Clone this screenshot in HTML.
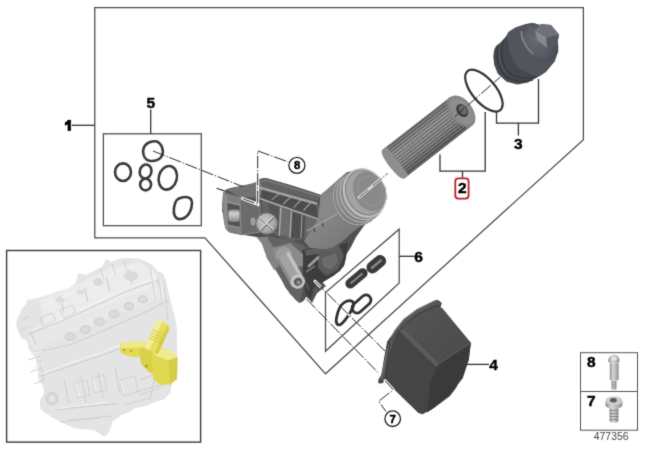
<!DOCTYPE html>
<html><head><meta charset="utf-8"><style>
html,body{margin:0;padding:0;background:#fff;width:647px;height:450px;overflow:hidden}
svg{display:block;position:absolute;left:0;top:0}
text{font-family:"Liberation Sans",sans-serif;font-weight:bold;font-size:15.5px;fill:#000;stroke:#000;stroke-width:0.45px}
</style></head><body>
<svg width="647" height="450" viewBox="0 0 647 450">
<defs>
<filter id="soft" x="0" y="0" width="647" height="450" filterUnits="userSpaceOnUse" color-interpolation-filters="sRGB"><feConvolveMatrix order="3" kernelMatrix="1 6 1 6 36 6 1 6 1" divisor="64" edgeMode="duplicate"/></filter>
<linearGradient id="gFil" x1="0" y1="0" x2="0" y2="1">
<stop offset="0" stop-color="#707070"/><stop offset="0.3" stop-color="#9c9c9c"/><stop offset="0.65" stop-color="#8c8c8c"/><stop offset="1" stop-color="#5a5a5a"/>
</linearGradient>
<pattern id="pleat" width="40" height="2.9" patternUnits="userSpaceOnUse">
<rect width="40" height="1.3" fill="#000" fill-opacity="0.38"/>
<rect y="1.7" width="40" height="0.8" fill="#fff" fill-opacity="0.18"/>
</pattern>
<radialGradient id="gCap" cx="0.4" cy="0.35" r="0.75">
<stop offset="0" stop-color="#686b72"/><stop offset="0.6" stop-color="#565960"/><stop offset="1" stop-color="#44474d"/>
</radialGradient>
<linearGradient id="gNeck" x1="0" y1="0" x2="0.7" y2="1">
<stop offset="0" stop-color="#7a7a7a"/><stop offset="0.45" stop-color="#8a8a8a"/><stop offset="0.85" stop-color="#7a7a7a"/><stop offset="1" stop-color="#666"/>
</linearGradient>
<radialGradient id="gXcap" cx="0.4" cy="0.4" r="0.7">
<stop offset="0" stop-color="#d0d0d0"/><stop offset="0.7" stop-color="#a5a5a5"/><stop offset="1" stop-color="#7a7a7a"/>
</radialGradient>
<linearGradient id="gTop4" x1="0" y1="0" x2="1" y2="1">
<stop offset="0" stop-color="#555"/><stop offset="1" stop-color="#4a4a4a"/>
</linearGradient>
<linearGradient id="gYel" x1="0" y1="0" x2="1" y2="1">
<stop offset="0" stop-color="#efe77a"/><stop offset="0.5" stop-color="#e4da3e"/><stop offset="1" stop-color="#d4c930"/>
</linearGradient>
<linearGradient id="gScr" x1="0" y1="0" x2="1" y2="0">
<stop offset="0" stop-color="#8c8c8c"/><stop offset="0.35" stop-color="#d6d6d6"/><stop offset="0.7" stop-color="#b4b4b4"/><stop offset="1" stop-color="#8e8e8e"/>
</linearGradient>
<linearGradient id="gCapL" x1="0" y1="1" x2="1" y2="0">
<stop offset="0" stop-color="#3f4147"/><stop offset="0.5" stop-color="#4d5057"/><stop offset="1" stop-color="#5a5d64"/>
</linearGradient>
<linearGradient id="gRoll" x1="0" y1="0" x2="0" y2="1">
<stop offset="0" stop-color="#8a8a8a"/><stop offset="0.3" stop-color="#cfcfcf"/><stop offset="0.65" stop-color="#b0b0b0"/><stop offset="1" stop-color="#808080"/>
</linearGradient>
</defs>
<g filter="url(#soft)">
<rect width="647" height="450" fill="#fff"/>

<!-- ===== frames ===== -->
<g fill="none" stroke="#4a4a4a" stroke-width="1.25">
<path d="M94.8,7.6 H583.4 V139.6 L325.5,373.8 L205,237.9 H94.8 Z"/>
<rect x="103.4" y="133.8" width="97.9" height="91.9"/>
<path d="M399.2,229.2 V283 L325.5,351.2 V292.5 Z"/>
</g>
<rect x="6.6" y="250.5" width="194" height="191.6" fill="none" stroke="#3a3a3a" stroke-width="1.4"/>
<g fill="none" stroke="#555" stroke-width="1">
<rect x="580.5" y="352.7" width="57" height="77.5"/>
<path d="M580.5,391.5 H637.5"/>
</g>

<!-- leaders -->
<g fill="none" stroke="#333" stroke-width="1.3">
<path d="M72,125.3 H94.8"/>
<path d="M150.7,109.6 V133.8"/>
<path d="M440,154.6 V171.2 H485.2 V112 M462.5,171.2 V177.8"/>
<path d="M496.5,111.8 V123.2 H538.5 V79 M518.4,123.2 V135.6"/>
<path d="M399.2,256.3 H414.5"/>
<path d="M465.5,364.4 H489"/>
</g>
<rect x="455.3" y="178.3" width="13.3" height="20.3" rx="3" fill="#fff" stroke="#c01f26" stroke-width="1.8"/>

<!-- ===== gaskets box 5 ===== -->
<g fill="none" stroke="#3a3a3a" stroke-width="2.6" stroke-linejoin="round">
<path d="M155,141.2 C158,141.2 160,143.5 161.5,146 C163.3,150 163.6,154 161,157.3 C158,160.3 153,161.3 149.5,160.8 C145.5,160 143.2,156 143.1,151.5 C143.1,147 146,143.8 149.5,142.3 C151.5,141.4 153.5,141.2 155,141.2 Z"/>
<ellipse cx="123" cy="172.2" rx="8" ry="8.8"/>
<ellipse cx="145.6" cy="171.5" rx="5.8" ry="7" transform="rotate(15 145.6 171.5)"/>
<ellipse cx="145.6" cy="184.6" rx="5.5" ry="5.8"/>
<ellipse cx="167.8" cy="177.8" rx="9" ry="12" transform="rotate(15 167.8 177.8)"/>
<path d="M178,199 C184,196 192,196 192,203 C192,210 188,218 181,219 C175,220 173,214 174,208 C175,203 175,201 178,199 Z"/>
</g>

<!-- ===== gaskets box 6 ===== -->
<g fill="#3a3a3a">
<rect x="-13" y="-5" width="26" height="10" rx="5" transform="translate(356.5,278.4) rotate(-40)"/>
<rect x="-11" y="-6" width="22" height="12" rx="6" transform="translate(376.3,264.2) rotate(-40)"/>
</g>
<g fill="#8a8a8a">
<rect x="-8" y="-1" width="16" height="2" rx="1" transform="translate(356.5,278.4) rotate(-40)"/>
<rect x="-7" y="-1.2" width="14" height="2.4" rx="1" transform="translate(376.3,264.2) rotate(-40)"/>
</g>
<g fill="none" stroke="#303030" stroke-width="2.8" stroke-linejoin="round">
<rect x="-11" y="-5" width="22" height="10" rx="5" transform="translate(361.5,304) rotate(-42)"/>
<path d="M341,305.5 C344,301.5 349,299.5 352,301.2 C355,303 353.5,307 350.5,312 C347.5,317 344.5,322 340.5,324.5 C337.5,326 335.5,323 336.3,319 C337.2,314 338.2,309.5 341,305.5 Z"/>
</g>

<!-- ===== O-ring ===== -->
<ellipse cx="483.9" cy="90.6" rx="11.8" ry="25.5" transform="rotate(-40 483.9 90.6)" fill="none" stroke="#333" stroke-width="2.2"/>

<!-- ===== filter element ===== -->
<g transform="translate(393.5,164) rotate(-37.9)">
<path d="M0,-18 H86 V18 H0 C-6,18 -6,-18 0,-18 Z" fill="url(#gFil)"/>
<rect x="5" y="-17" width="77" height="34" fill="url(#pleat)"/>
<path d="M0,-18 H5 V18 H0 C-6,18 -6,-18 0,-18 Z" fill="#8e8e8e"/>
<rect x="80" y="-18" width="6" height="36" fill="#7e7e7e"/>
<ellipse cx="86" cy="0" rx="11" ry="18" fill="#858585"/>
<ellipse cx="86.5" cy="0" rx="9" ry="15.5" fill="#8e8e8e"/>
<ellipse cx="87" cy="0" rx="5.2" ry="7.2" fill="#3e3e3e"/>
<ellipse cx="88" cy="0" rx="3.6" ry="5.2" fill="#6a6a6a"/>
</g>

<!-- ===== cap ===== -->
<path d="M494.2,49.7 L496,46.1 L501.4,41.7 L506.7,35.5 L508.5,31.9 L515.6,27.5 L526.3,23.9 L533.4,23 L541.4,25.7 L551.2,27.8 L558.3,38.1 L556.5,46.1 L558.3,50.6 L554.7,61.3 L545.8,72 L538.7,76.4 L528,82.6 L517.4,84.4 L506.7,81.7 L497.8,73.7 L494.2,64.8 L493.3,55.9 Z" fill="#45484e"/>
<path d="M506.7,35.5 L508.5,31.9 L515.6,27.5 L526.3,23.9 L533.4,23 L541.4,25.7 L551.2,27.8 L558.3,38.1 L556.5,46.1 L558.3,50.6 L554.7,61.3 L545.8,72 L538.7,76.4 C532,75 524,72 519,68 C513,62 510,55 509,48 C508.5,43 507.5,39 506.7,35.5 Z" fill="#52555c"/>
<ellipse cx="541" cy="43" rx="15.5" ry="20" transform="rotate(-38 541 43)" fill="url(#gCap)"/>
<path d="M521.5,31 C521,38 525,47 533,54" fill="none" stroke="#868990" stroke-width="1.6"/>
<g fill="none" stroke="#34363b" stroke-width="1.2">
<path d="M499,45 C495.5,54 497,66 504,74.5 C511,81 522,83 533,80"/>
<path d="M503.5,40 C499.5,50 501,63 508,71.5 C515,78 527,80 537,76.5"/>
</g>
<g fill="none" stroke="#5a5d64" stroke-width="0.9">
<path d="M501,42.5 C497.5,52 499,64.5 506,73"/>
</g>
<path d="M535,30.5 L541,24 L551,25 L559,34.5 L557,44 L547,48 L537,40 Z" fill="#63666d"/>
<path d="M535,30.5 L546.5,37.5 L547,48 L537,40 Z" fill="#868990"/>
<path d="M546.5,37.5 L559,34.5 L557,44 L547,48 Z" fill="#55585f"/>
<path d="M535,30.5 L541,24 L551,25 L559,34.5 L546.5,37.5 Z" fill="#6e7178"/>

<!-- ===== housing ===== -->
<path d="M225.9,189.4 L230.6,187.9 L243,185.6 L250.8,184.8 L255.4,182.4 L258.5,179.3 L261.7,178.6 L265.7,178 L278.1,181.6 L290.6,185.1 L304.8,189.6 L315.4,193.1 L320.8,194.9 L327.9,189.6 L346.7,172.5 L358.3,169.2 L370,170.8 L380,177.5 L385.8,188.3 L386.7,198.3 L383.3,208.3 L376.7,215 L366,223 L356,237 L351,247 L346,255 L344,265 L340,271 L334,275 L324,281 L320,287 L316,295 L312,303 L306.6,297.6 L303,301.2 L299.5,303 L295.9,300.3 L290.6,294.1 L285.2,286.9 L281.7,279.8 L278.1,270.9 L272.8,265.6 L267.5,258.5 L265.7,249.6 L262.1,242.5 L256.8,237.1 L240.7,234.5 L235.2,233.8 L229,232.2 L225.9,229.1 L224.3,222.9 L223.6,216.7 L222,210.4 L222.8,205.8 L223.6,197.2 Z" fill="#505050"/>
<!-- lower body -->
<path d="M257,237 L268,236 L290,240 L305,246 L308,262 L304,285 L300,303 L290,294 L281,279 L273,266 L267,258 L262,242 Z" fill="#636363"/>
<path d="M256.5,237 L267,237 L275,250 L279,266 L274,270 L267,258 L262,244 Z" fill="#838383"/>
<path d="M302,250 L348,243 L346,258 L344,266 L334,275.6 L324,281.4 L315.3,285.7 L312.5,293 L310,300 L305,292 L303,275 Z" fill="#3d3d3d"/>
<path d="M318,254 L340,247 L344,256 L338,270 L326,276 L318,268 Z" fill="#5a5a5a"/>
<path d="M322,258 L336,253 L338,262 L330,270 L323,266 Z" fill="#6c6c6c"/>
<path d="M305,250 L340,245 L338,250 L306,256 Z" fill="#5e5e5e"/>
<path d="M309,266 L318,257.5" stroke="#a0a0a0" stroke-width="2.6" stroke-linecap="round"/>
<path d="M306,272 L315,266" stroke="#777" stroke-width="1.6"/>
<path d="M303,276 L309,290" stroke="#555" stroke-width="2"/>
<path d="M312,290 L322,282 L326,286 L316,294 Z" fill="#555"/>
<!-- pipe boss + pipe -->
<path d="M272,248 L290,243 L303,254 L303,266 L290,268 L278,262 Z" fill="#8a8a8a"/>
<ellipse cx="283.5" cy="254.5" rx="8.5" ry="7.5" transform="rotate(-30 283.5 254.5)" fill="#9c9c9c"/>
<path d="M283,255 L297.5,280.5" stroke="#a3a3a3" stroke-width="13.5" stroke-linecap="butt"/>
<path d="M277.5,258.5 L292,284" stroke="#8c8c8c" stroke-width="3"/>
<path d="M287.5,252.5 L301.5,277.5" stroke="#c2c2c2" stroke-width="3.5"/>
<ellipse cx="297.7" cy="281.6" rx="7.4" ry="7" transform="rotate(-30 297.7 281.6)" fill="#c4c4c4"/>
<ellipse cx="298" cy="281.8" rx="4.2" ry="3.9" transform="rotate(-30 298 281.8)" fill="#5c5c5c"/>
<ellipse cx="298.6" cy="282.4" rx="2.2" ry="2" fill="#8e8e8e"/>
<!-- left block -->
<path d="M225.9,189.4 L243,185.6 L255.4,182.4 L261.7,178.6 L264,186 L260,198 L240,197 Z" fill="#727272"/>
<path d="M223,192 L240,197 L241,235 L229,232 L224,222 L222,205 Z" fill="#7e7e7e"/>
<path d="M240,197 L260,203 L260,232 L241,235 Z" fill="#6b6b6b"/>
<path d="M240,197 L260,203 L260,232 L241,235 Z" fill="none" stroke="#8c8c8c" stroke-width="1"/>
<path d="M227,202.5 L239.5,205.5 L239.8,227 L228,224.5 Z" fill="#545454"/>
<rect x="228.5" y="209.5" width="11" height="12.5" rx="3" fill="url(#gRoll)"/>
<path d="M223.5,194 L227,195.5 L228,230 L225,228 L224,221 Z" fill="#8c8c8c"/>
<path d="M226,201.5 L240,205" stroke="#959595" stroke-width="1.4"/>
<path d="M227,225 L240,228" stroke="#8a8a8a" stroke-width="1.4"/>
<path d="M242,197.3 L258.5,203.5" stroke="#9c9c9c" stroke-width="1.3"/>
<ellipse cx="253" cy="221.5" rx="2.5" ry="4" fill="#a0a0a0"/>
<!-- ribs -->
<path d="M261,179 L266,178 L321,195 L318,201 L262,187 Z" fill="#626262"/>
<path d="M262,187 L318,202 L320,219 L316,236 L292,241 L268,232 L262,222 Z" fill="#626262"/>
<path d="M262,189 L316,204 L318,218.5 L262,198 Z" fill="#4c4c4c"/>
<path d="M281,207 L290,211 L289,236 L280,234 Z" fill="#6e6e6e"/>
<path d="M268,203 L279,207 L278,232 L272,228 Z" fill="#555"/>
<path d="M292,212 L305,216 L304,238 L291,238 Z" fill="#505050"/>
<path d="M306,216 L317,220 L316,236 L305,238 Z" fill="#6a6a6a"/>
<g stroke="#a8a8a8" stroke-width="1.5" fill="none" stroke-linecap="round">
<path d="M260,187.8 L316,203.6" stroke-width="2.6" stroke="#a2a2a2"/>
<path d="M260,198.5 L320,219.8"/>
<path d="M280.8,207.7 L279.3,235.5 M291.4,211.5 L290,237"/>
</g>
<g stroke="#9a9a9a" stroke-width="1.2" fill="none">
<path d="M279.3,193.8 L271.5,199.9 M290.7,197 L282.9,204.2 M300.7,200 L293.6,207.7 M310.5,203 L303.5,210.5"/>
<path d="M302,215 L301,238"/>
</g>
<path d="M262,182 L266,180.5 L320,196.5" stroke="#7e7e7e" stroke-width="1.2" fill="none"/>
<!-- neck -->
<path d="M320.5,195 L346.8,172 L372,221 L364.9,223.2 L357.7,228.2 L350.4,234 L346.1,238.3 L338.9,244.1 L331.7,247.7 L324.4,249.2 L310,248 L304,241 L312,229 L318,219 Z" fill="url(#gNeck)"/>
<path d="M307,231 L337,214" stroke="#a8a8a8" stroke-width="1.4"/>
<path d="M313.5,228 L315,232 M322,223 L323.5,227" stroke="#555" stroke-width="1.6"/>
<path d="M381.3,209.7 L379.9,212.1 L378.2,214.4 L376.3,216.3 L374.1,217.8 L371.7,219.1 L369.1,219.9 L366.4,220.3 L363.7,220.4 L360.9,220.0 L358.1,219.3 L355.4,218.2 L352.8,216.7 L350.3,214.9 L348.0,212.7 L345.9,210.3 L344.1,207.7 L342.5,204.8 L341.3,201.8 L340.4,198.7 L339.8,195.6 L339.5,192.4 L339.6,189.3 L340.1,186.3 L340.8,183.4 L342.0,180.7 L343.4,178.3 L345.1,176.1 Z" fill="#8c8c8c"/>
<path d="M381.2,211.2 L379.7,213.4 L377.9,215.3 L375.9,216.9 L373.8,218.2 L371.5,219.2 L369.0,219.8 L366.5,220.1 L363.9,220.1 L361.2,219.6 L358.6,218.9 L356.1,217.7 L353.6,216.3 L351.3,214.6 L349.2,212.6 L347.2,210.3 L345.4,207.8 L343.9,205.2 L342.7,202.4 L341.7,199.5 L341.1,196.5 L340.7,193.6 L340.7,190.6 L340.9,187.7 L341.5,184.9 L342.4,182.3 L343.5,179.9 L345.0,177.6" fill="none" stroke="#6c6c6c" stroke-width="0.9"/>
<path d="M380.7,210.8 L379.2,213.0 L377.4,214.9 L375.4,216.5 L373.3,217.8 L371.0,218.8 L368.5,219.4 L366.0,219.7 L363.4,219.7 L360.7,219.2 L358.1,218.5 L355.6,217.3 L353.1,215.9 L350.8,214.2 L348.7,212.2 L346.7,209.9 L344.9,207.4 L343.4,204.8 L342.2,202.0 L341.2,199.1 L340.6,196.1 L340.2,193.2 L340.2,190.2 L340.4,187.3 L341.0,184.5 L341.9,181.9 L343.0,179.5 L344.5,177.2" fill="none" stroke="#b8b8b8" stroke-width="1.3"/>
<path d="M378.0,213.6 L376.5,215.8 L374.7,217.7 L372.7,219.3 L370.6,220.6 L368.3,221.6 L365.8,222.2 L363.3,222.5 L360.7,222.5 L358.0,222.0 L355.4,221.3 L352.9,220.1 L350.4,218.7 L348.1,217.0 L346.0,215.0 L344.0,212.7 L342.2,210.2 L340.7,207.6 L339.5,204.8 L338.5,201.9 L337.9,198.9 L337.5,196.0 L337.5,193.0 L337.7,190.1 L338.3,187.3 L339.2,184.7 L340.3,182.3 L341.8,180.0" fill="none" stroke="#6c6c6c" stroke-width="0.9"/>
<path d="M377.5,213.2 L376.0,215.4 L374.2,217.3 L372.2,218.9 L370.1,220.2 L367.8,221.2 L365.3,221.8 L362.8,222.1 L360.2,222.1 L357.5,221.6 L354.9,220.9 L352.4,219.7 L349.9,218.3 L347.6,216.6 L345.5,214.6 L343.5,212.3 L341.7,209.8 L340.2,207.2 L339.0,204.4 L338.0,201.5 L337.4,198.5 L337.0,195.6 L337.0,192.6 L337.2,189.7 L337.8,186.9 L338.7,184.3 L339.8,181.9 L341.3,179.6" fill="none" stroke="#b0b0b0" stroke-width="1.2"/>
<path d="M374.5,216.2 L373.0,218.4 L371.3,220.3 L369.3,221.9 L367.1,223.2 L364.8,224.2 L362.4,224.8 L359.8,225.1 L357.2,225.0 L354.6,224.6 L352.0,223.8 L349.5,222.7 L347.0,221.3 L344.7,219.6 L342.5,217.6 L340.5,215.3 L338.8,212.8 L337.3,210.2 L336.0,207.4 L335.1,204.5 L334.4,201.5 L334.1,198.5 L334.0,195.6 L334.3,192.7 L334.9,189.9 L335.7,187.3 L336.9,184.8 L338.3,182.6" fill="none" stroke="#6c6c6c" stroke-width="0.9"/>
<path d="M374.0,215.8 L372.5,218.0 L370.8,219.9 L368.8,221.5 L366.6,222.8 L364.3,223.8 L361.9,224.4 L359.3,224.7 L356.7,224.6 L354.1,224.2 L351.5,223.4 L349.0,222.3 L346.5,220.9 L344.2,219.2 L342.0,217.2 L340.0,214.9 L338.3,212.4 L336.8,209.8 L335.5,207.0 L334.6,204.1 L333.9,201.1 L333.6,198.1 L333.5,195.2 L333.8,192.3 L334.4,189.5 L335.2,186.9 L336.4,184.4 L337.8,182.2" fill="none" stroke="#a8a8a8" stroke-width="1.1"/>
<ellipse cx="364.6" cy="192.9" rx="21.1" ry="25.6" transform="rotate(-23.9 364.6 192.9)" fill="#c0c0c0"/>
<ellipse cx="365" cy="192.6" rx="18.6" ry="23.2" transform="rotate(-25 365 192.6)" fill="#a2a2a2" stroke="#777" stroke-width="0.9"/>
<ellipse cx="369.3" cy="191.4" rx="15.4" ry="20.4" transform="rotate(-25 369.3 191.4)" fill="#8a8a8a"/>
<ellipse cx="370.5" cy="191" rx="11.5" ry="15.5" transform="rotate(-25 370.5 191)" fill="none" stroke="#959595" stroke-width="1"/>
<!-- X cap -->
<circle cx="266.8" cy="223.6" r="10.5" fill="url(#gXcap)"/>
<path d="M260.3,217.8 L273.8,230 M273.5,217.3 L260.5,230.3" stroke="#7c7c7c" stroke-width="2.6"/>
<path d="M260,217 L273.5,229.3 M273,216.6 L260,229.6" stroke="#dcdcdc" stroke-width="1.3"/>
<circle cx="266.8" cy="223.6" r="10.5" fill="none" stroke="#858585" stroke-width="0.9"/>

<!-- ===== cover 4 ===== -->
<path d="M417.2,309.4 L435.4,300.5 L438.3,300.3 L441.7,302.8 L440.6,307.2 L471,343.2 L468,360 L462,376 L456,388 L450,396 L442,402 L434,408 L422.6,414.3 L418.4,412.9 L385,380.5 L382.5,383.3 L378.5,383.6 L378.2,380 L381.4,374.5 L384.2,357.4 L387.1,341.8 L395,330.6 L403.9,319.4 Z" fill="#454545"/>
<path d="M403.6,325.4 L422.2,313 L437.8,306.8 L442.4,308.3 L470.8,342.8 L437.8,364.3 L403.6,331.7 Z" fill="url(#gTop4)"/>
<path d="M437.8,364.3 L470.8,342.8 L468.9,359.7 L462.7,378.3 L450.2,393.9 L431.6,409.5 L426.9,412.6 L430,384.6 Z" fill="#3a3a3a"/>
<path d="M401,329.5 L437.8,365.5" stroke="#5d5d5d" stroke-width="4"/>
<path d="M437.8,364.3 L470.8,342.8" stroke="#5a5a5a" stroke-width="1.2"/>
<path d="M382.5,380 L385.5,366.5 L388.8,351 L392.2,340 L396.8,331.5 L405.5,320.8 L418.3,311.3 L436,302.8 L440,303.5" fill="none" stroke="#585858" stroke-width="3"/>
<path d="M380.6,379.4 L383.9,366.1 L387.2,350.6 L390.6,339.4 L395,330.6 L403.9,319.4 L417.2,309.4 L435.4,300.5 L438.3,300.3" fill="none" stroke="#727272" stroke-width="1.2"/>
<path d="M385,380.5 L390,340 L404,326" fill="none" stroke="#3a3a3a" stroke-width="1"/>

<!-- ===== screws ===== -->
<g>
<path d="M608.2,361.5 C608,357.5 610.5,354.7 613.9,354.7 C617.3,354.7 619.8,357.5 619.6,361.5 L617.8,363.6 L610.2,363.6 Z" fill="url(#gScr)"/>
<path d="M610.5,358 C611.5,356 616,356 617.5,358 L616,360.5 L612,360.5 Z" fill="#e2e2e2"/>
<path d="M609.8,363.6 H618.7 V379.5 C618.7,380.4 617,380.6 614.2,380.6 C611.4,380.6 609.8,380.4 609.8,379.5 Z" fill="url(#gScr)"/>
<rect x="611.6" y="380.4" width="4.8" height="9.6" rx="1" fill="url(#gScr)"/>
<g stroke="#7a7a7a" stroke-width="0.7"><path d="M611.6,382.5 H616.4 M611.6,384.8 H616.4 M611.6,387.1 H616.4"/></g>
<rect x="609.6" y="406" width="8.8" height="16.6" rx="2" fill="url(#gScr)"/>
<g stroke="#7c7c7c" stroke-width="0.8"><path d="M609.6,410.5 H618.4 M609.6,413.5 H618.4 M609.6,416.5 H618.4 M609.6,419.5 H618.4"/></g>
<path d="M605.6,401 V405.5 C605.6,407.5 609,408.6 614,408.6 C619,408.6 622.4,407.5 622.4,405.5 V401 Z" fill="url(#gScr)"/>
<ellipse cx="614" cy="400.6" rx="8.4" ry="4.4" fill="#cdcdcd"/>
<ellipse cx="613.4" cy="400.2" rx="3.4" ry="2.2" fill="#5a5a5a"/>
</g>

<!-- ===== engine inset ===== -->
<path d="M106,259 L111.7,261.8 L119.6,258.8 L129.4,257.9 L139.1,258.8 L147,261.8 L152.8,265.7 L156.8,270.6 L162.6,273.5 L166,280 L167.5,288 L169.5,296 L171,303 L173,310 L175,318 L176.5,326 L177,334 L177,342 L177.3,358.1 L176.2,371.7 L171.6,385.4 L170.5,392.2 L164.8,399 L153.5,402.4 L146.7,405.8 L135.4,408 L128.5,412.6 L121.7,414.8 L112.7,421.6 L110.4,428.4 L107,435.2 L103.6,436.4 L99,433 L94.5,430.7 L90,429.6 L80.8,429.6 L71.8,427.3 L65,424 L55.9,419.4 L44.5,412.6 L40,408 L40,400 L44.5,392.2 L42.3,384.2 L38.9,382 L37.7,369.5 L35.5,358 L28.7,349 L26.4,340 L22,339 L18,331 L16,323 L18,317 L22,309 L26,304 L27,300 L38,298 L48,295 L58,291 L68,289 L76,283 L78,273 L86,275 L94,271 L102,267 Z" fill="#e4e4e4"/>
<path d="M40,300 L78,284 L110,268 L140,262 L160,276 L150,290 L120,300 L80,318 L45,330 Z" fill="#ececec"/>
<path d="M28,336 L60,324 L100,308 L140,292 L165,283 L168,296 L140,306 L100,322 L60,338 L34,350 Z" fill="#e8e8e8"/>
<g fill="none" stroke="#cfcfcf" stroke-width="1.1">
<path d="M28,334 L60,322 L95,306 L125,292 L158,280"/>
<path d="M36,352 L70,345 L110,328 L150,310 L168,300"/>
<path d="M39.6,376.5 L70,366 L100,356 L130,344.7"/>
<path d="M64,379 L69,403 M81,376.5 L86,403 M98,371.6 L103,398.5 M115,366.7 L120,393.6"/>
<path d="M69,408 L118,404 M70,420 L112,416"/>
<path d="M40,360 L44,380 M30,330 L36,345"/>
<path d="M60,296 L64,312 M84,286 L88,302 M106,276 L110,292 M128,268 L132,284"/>
<path d="M140,380 L160,372 M135,392 L165,384 M150,400 L158,360"/>
</g>
<g fill="none" stroke="#f4f4f4" stroke-width="1.2">
<path d="M30,331 L60,319 L95,303 L125,289 L158,277"/>
<path d="M42,374 L70,363 L100,353 L128,342"/>
<path d="M45,305 L75,292 L105,277 L135,266"/>
</g>
<g fill="none" stroke="#d2d2d2" stroke-width="1">
<path d="M150,268 L156,300 M158,275 L163,305 M164,285 L168,320"/>
<path d="M40,318 L52,313 L56,320 L44,326 Z M60,310 L72,305 L76,312 L64,318 Z"/>
<path d="M28,360 L40,356 M30,372 L42,368 M34,384 L44,380"/>
<path d="M75,383 L78,398 L90,395 L87,380 Z M92,378 L95,393 L107,390 L104,375 Z"/>
<path d="M60,422 L100,418 M56,410 L110,404"/>
<path d="M120,380 L135,376 L138,392 L123,396 Z"/>
<path d="M140,395 L160,388 M125,405 L150,398"/>
<path d="M100,268 L104,280 M112,264 L116,276 M124,262 L128,274"/>
<path d="M22,320 L30,316 M20,330 L28,327"/>
</g>
<g fill="none" stroke="#f3f3f3" stroke-width="1.1">
<path d="M76,384 L79,396 M93,379 L96,391 M121,381 L124,393"/>
<path d="M30,355 L42,351 M33,367 L44,363"/>
<path d="M152,270 L157,298 M160,278 L164,303"/>
<path d="M60,408 L108,402"/>
</g>
<ellipse cx="60" cy="300" rx="5" ry="3" fill="#dcdcdc"/>
<ellipse cx="80" cy="292" rx="4" ry="2.5" fill="#dcdcdc"/>
<circle cx="51.8" cy="398.5" r="6" fill="#d9d9d9" stroke="#cbcbcb" stroke-width="1"/>
<circle cx="51.8" cy="398.5" r="3" fill="#e6e6e6"/>
<g fill="#dbdbdb" stroke="#cbcbcb" stroke-width="1.1">
<ellipse cx="70.1" cy="336.4" rx="4.8" ry="3.7"/>
<ellipse cx="85.5" cy="329.4" rx="4.8" ry="3.7"/>
<ellipse cx="99.5" cy="321.7" rx="4.8" ry="3.7"/>
<ellipse cx="114.1" cy="314" rx="4.8" ry="3.7"/>
<ellipse cx="128.8" cy="306.2" rx="4.6" ry="3.6"/>
<ellipse cx="142.7" cy="299.3" rx="4.4" ry="3.5"/>
</g>
<ellipse cx="131" cy="276" rx="7" ry="5" fill="#dadada"/>
<ellipse cx="98" cy="282" rx="5" ry="4" fill="#dadada"/>
<!-- yellow part -->
<path d="M120,343.5 L128,341.5 L140,341.5 L147,343 L146,355 L136,357.5 L125,355 L120.5,352.5 Z" fill="#e2db55"/>
<path d="M120,343.5 L128,341.5 L140,341.5 L147,343 L146,347 L121,348 Z" fill="#eeea8c"/>
<circle cx="124" cy="350" r="1.3" fill="#b8b030"/><circle cx="131" cy="351" r="1.3" fill="#b8b030"/>
<path d="M139,349 L156,346 L158,373 L150,373 L141,364 Z" fill="#d9d14a"/>
<circle cx="146.5" cy="366" r="1.6" fill="#aea630"/>

<path d="M152,350 L162,348 L170,350 L177.5,357 L177,379 L170,384.5 L160,384.5 L153,379 Z" fill="#e0d850"/>
<path d="M152,350 L162,348 L170,350 L177.5,357 L168.5,360.5 L156,356 Z" fill="#efeb92"/>
<path d="M168.5,360.5 L177.5,357 L177,379 L170,384.5 Z" fill="#d5cd48"/>
<g transform="translate(157.8,336.5) rotate(-65.5)">
<path d="M-16,-7.4 H10 C17,-7.4 17.5,7.4 10,7.4 H-16 Z" fill="#e6df5e"/>
<path d="M-16,-7.4 H10 C15,-7.4 16.5,-3 16.7,-2 H-16 Z" fill="#f2ee9c"/>
<path d="M-16,4 H14.5 C14,6 12.5,7.4 10,7.4 H-16 Z" fill="#d6ce44"/>
<path d="M1,-7.4 V7.4 M4,-7.4 V7.4 M-2,-7.4 V7.4 M-5,-7.4 V7.4" stroke="#cfc742" stroke-width="0.8"/>
</g>

<!-- dash-dot axes -->
<g fill="none" stroke="#fff" stroke-width="3" stroke-linecap="round">
<path d="M242.6,198.6 L257.7,204.3 V178"/>
<path d="M359,197.5 L386,174.5" stroke-width="2.4"/>
<path d="M315,281.2 L320,286.2 M306.4,298.9 L309,301.6"/>
<path d="M344.5,310.5 L349,315" stroke-width="2.2"/>
<path d="M385,380.7 L393.3,389.7"/>
</g>
<g fill="none" stroke="#2a2a2a" stroke-width="1" stroke-dasharray="12.5 1.8 1.3 1.8">
<path d="M153,151 L243,186.7"/>
<path d="M359,197.5 L387.5,173.5"/>
<path d="M455,116.5 L500.4,76.9"/>
<path d="M242.6,198.6 L257.7,204.3 V150.9 L288,161.8"/>
<path d="M306.4,298.9 L378.8,373.4"/>
<path d="M315,281.2 L385,351"/>
<path d="M385,380.7 L393.3,389.7 L378.7,401.3 L386,411.5"/>
</g>
<path d="M216.5,188.3 L225.7,191.4" stroke="#333" stroke-width="1.2"/>

<!-- circles labels -->
<g fill="#fff" stroke="#222" stroke-width="1.3">
<circle cx="296.9" cy="165.4" r="8"/>
<circle cx="392.7" cy="418.7" r="7.8"/>
</g>

<!-- ===== texts ===== -->
<path d="M67.8,120.1 L70.8,120.1 L70.8,130.7 L67.8,130.7 L67.8,124.2 C67,124.8 66,125.2 65,125.3 L65,122.6 C66.4,122.2 67.3,121.4 67.8,120.1 Z" fill="#000" stroke="#000" stroke-width="0.3"/>
<text x="146.6" y="107.8">5</text>
<text x="458" y="193.2">2</text>
<text x="514" y="148.6">3</text>
<text x="414.2" y="261.8">6</text>
<text x="489.3" y="369.8">4</text>
<text x="293.9" y="169.3" style="font-size:11.3px">8</text>
<text x="389.4" y="423.4" style="font-size:11.5px">7</text>
<text x="587" y="367">8</text>
<text x="587" y="405.6">7</text>
<text x="593.8" y="439.8" style="font-weight:normal;font-size:10.4px;fill:#444;stroke:none">477356</text>
</g>
</svg>
</body></html>
